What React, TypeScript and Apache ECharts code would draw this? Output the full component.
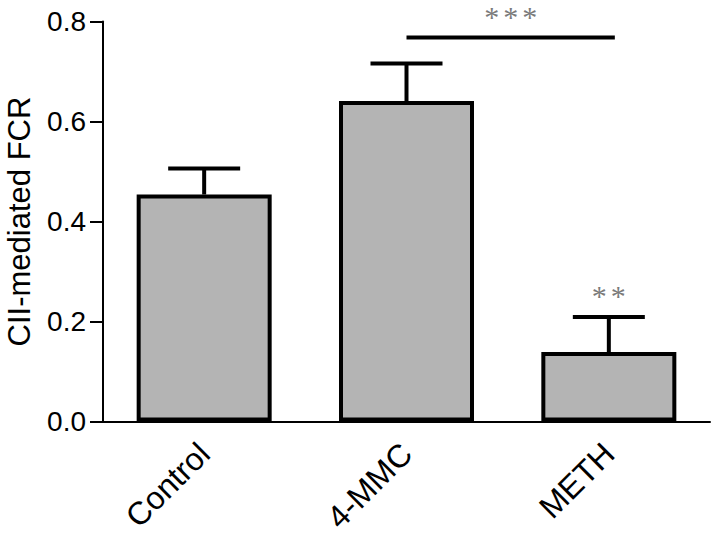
import React, { useEffect, useRef } from "react";
import * as echarts from "echarts";

const categories = ["Control", "4-MMC", "METH"];
const means = [0.454, 0.641, 0.139];
const errors = [0.052, 0.075, 0.07];
const yTicks = { min: 0, max: 0.8, interval: 0.2 };
const yAxisTitle = "CII-mediated FCR";
// significance bracket: from category, to category, bracket height, star height, label
const bracketFrom = [1];
const bracketTo = [2];
const bracketY = [0.768];
const bracketStarY = [0.81];
const bracketLabel = ["***"];
// single-bar stars: category, height, label
const starCat = [2];
const starY = [0.252];
const starLabel = ["**"];

const starStyle = {
  fill: "#7a7a7a",
  fontSize: 30,
  fontFamily: "Liberation Serif, serif",
  align: "center",
  verticalAlign: "middle",
};

function starTexts(label: string, cx: number, cy: number) {
  const step = 19;
  const n = label.length;
  return label.split("").map((ch, k) => ({
    type: "text",
    x: cx + (k - (n - 1) / 2) * step,
    y: cy,
    style: { ...starStyle, text: ch },
  }));
}

export default function App() {
  const ref = useRef<HTMLDivElement>(null);
  useEffect(() => {
    if (!ref.current) return;
    const chart = echarts.init(ref.current, null, { renderer: "svg" });
    const errData = categories.map((_, i) => [i, means[i], means[i] + errors[i]]);
    const bracketData = bracketFrom.map((f, i) => [f, bracketTo[i], bracketY[i], bracketStarY[i], i]);
    const starData = starCat.map((c, i) => [c, starY[i], i]);
    const font = "Liberation Sans, Arial, sans-serif";
    chart.setOption({
      animation: false,
      backgroundColor: "#ffffff",
      grid: { left: 103, right: 10, top: 21.5, bottom: 126.5, containLabel: false, outerBoundsMode: "none" },
      xAxis: {
        type: "category",
        data: categories,
        boundaryGap: true,
        axisLine: { lineStyle: { color: "#000", width: 2 } },
        axisTick: { alignWithLabel: true, length: 13, lineStyle: { color: "#000", width: 2 } },
        axisLabel: {
          rotate: 45,
          margin: 27,
          fontSize: 32,
          fontFamily: font,
          color: "#000",
        },
      },
      yAxis: {
        type: "value",
        min: yTicks.min,
        max: yTicks.max,
        interval: yTicks.interval,
        name: yAxisTitle,
        nameLocation: "middle",
        nameGap: 68,
        nameTextStyle: { fontSize: 31, fontFamily: font, color: "#000" },
        axisLine: { show: true, lineStyle: { color: "#000", width: 2 } },
        axisTick: { show: true, length: 13, lineStyle: { color: "#000", width: 2 } },
        splitLine: { show: false },
        axisLabel: {
          margin: 17,
          fontSize: 28,
          fontFamily: font,
          color: "#000",
          formatter: (v: number) => v.toFixed(1),
        },
      },
      series: [
        {
          type: "bar",
          data: means,
          barWidth: 135,
          itemStyle: { color: "#b4b4b4", borderColor: "#000", borderWidth: 4 },
          z: 2,
        },
        {
          type: "custom",
          data: errData,
          z: 3,
          renderItem: (params: any, api: any) => {
            const x = api.value(0);
            const p0 = api.coord([x, api.value(1)]);
            const p1 = api.coord([x, api.value(2)]);
            const half = 36;
            return {
              type: "group",
              children: [
                { type: "line", shape: { x1: p0[0], y1: p0[1], x2: p1[0], y2: p1[1] }, style: { stroke: "#000", lineWidth: 4 } },
                { type: "line", shape: { x1: p1[0] - half, y1: p1[1], x2: p1[0] + half, y2: p1[1] }, style: { stroke: "#000", lineWidth: 4 } },
              ],
            };
          },
        },
        {
          type: "custom",
          data: bracketData,
          z: 3,
          clip: false,
          renderItem: (params: any, api: any) => {
            const a = api.coord([api.value(0), api.value(2)]);
            const b = api.coord([api.value(1), api.value(2)]);
            const s = api.coord([api.value(0), api.value(3)]);
            const idx = api.value(4);
            return {
              type: "group",
              children: [
                { type: "line", shape: { x1: a[0], y1: a[1], x2: b[0] + 6, y2: b[1] }, style: { stroke: "#000", lineWidth: 4 } },
                ...starTexts(bracketLabel[idx], (a[0] + b[0]) / 2 + 3, s[1]),
              ],
            };
          },
        },
        {
          type: "custom",
          data: starData,
          z: 3,
          clip: false,
          renderItem: (params: any, api: any) => {
            const p = api.coord([api.value(0), api.value(1)]);
            const idx = api.value(2);
            return {
              type: "group",
              children: starTexts(starLabel[idx], p[0], p[1]),
            };
          },
        },
      ],
    });
    return () => chart.dispose();
  }, []);
  return (
    <div
      ref={ref}
      style={{ position: "fixed", left: 0, top: 0, width: 720, height: 548, background: "#fff" }}
    />
  );
}
